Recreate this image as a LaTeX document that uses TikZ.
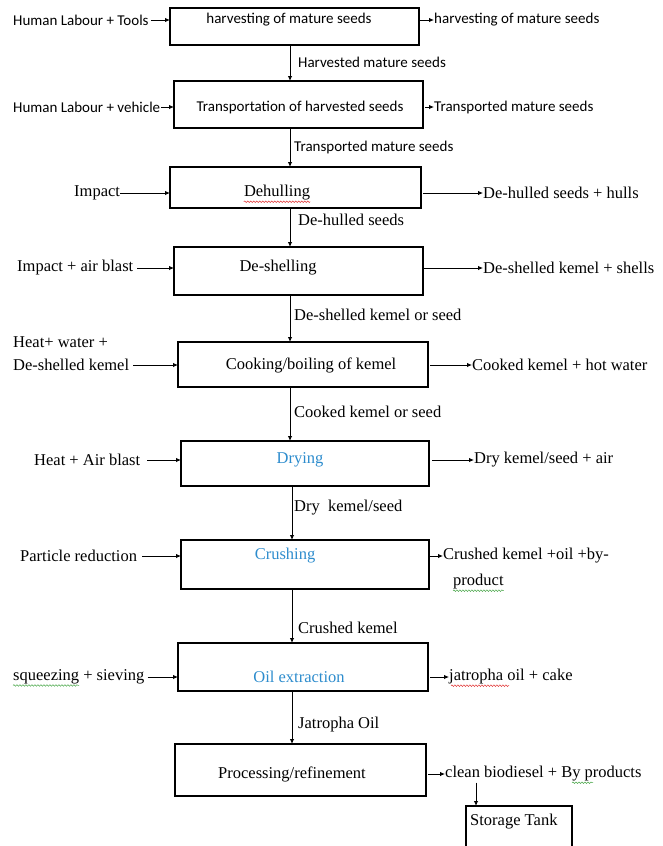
\documentclass[tikz,border=0pt]{standalone}
\usepackage{fontspec}
\setmainfont{Liberation Serif}
\newfontfamily\calfont{Carlito}
\usetikzlibrary{arrows.meta,decorations.pathmorphing}
\definecolor{wordblue}{RGB}{45,140,205}
\definecolor{spellred}{RGB}{225,50,50}
\definecolor{spellgreen}{RGB}{70,165,70}
\begin{document}
\begin{tikzpicture}[x=1pt,y=-1pt,
  box/.style={draw, line width=1.1pt, inner sep=0pt, outer sep=0pt},
  ser/.style={font=\fontsize{16.5}{18}\selectfont, inner sep=0pt},
  san/.style={font=\calfont\fontsize{15}{17}\selectfont, inner sep=0pt},
  blu/.style={ser, text=wordblue},
  arr/.style={line width=0.9pt, -{Latex[length=5pt,width=4.5pt]}},
  wavyr/.style={spellred, line width=0.5pt, decorate, decoration={snake, amplitude=0.8pt, segment length=3pt}},
  wavyg/.style={wavyr, spellgreen}]
\useasboundingbox (0,0) rectangle (663,846);
\clip (0,0) rectangle (663,846);
% boxes
\node[box, minimum width=249pt, minimum height=37pt] (b1) at (294.5,26.5) {};
\node[box, minimum width=249pt, minimum height=47pt] (b2) at (298.5,104.5) {};
\node[box, minimum width=251pt, minimum height=41pt] (b3) at (295.5,187.5) {};
\node[box, minimum width=249pt, minimum height=48pt] (b4) at (298.5,271) {};
\node[box, minimum width=250pt, minimum height=45pt] (b5) at (303,364.5) {};
\node[box, minimum width=248pt, minimum height=45pt] (b6) at (305,463.5) {};
\node[box, minimum width=248pt, minimum height=49pt] (b7) at (305,564.5) {};
\node[box, minimum width=250pt, minimum height=48pt] (b8) at (303,667) {};
\node[box, minimum width=251pt, minimum height=52pt] (b9) at (300.5,770) {};
\node[box, minimum width=106pt, minimum height=68pt] (tank) at (519,840) {};
% box texts
\node[san] (t1) at (289,20) {harvesting of mature seeds};
\node[san] (t2) at (300,107) {Transportation of harvested seeds};
\node[ser] (t3) at (277,193) {Dehulling};
\node[ser] (t4) at (278,268) {De-shelling};
\node[ser] (t5) at (311,365) {Cooking/boiling of kemel};
\node[blu] (t6) at (300,460) {Drying};
\node[blu] (t7) at (285,556) {Crushing};
\node[blu] (t8) at (299,677) {Oil extraction};
\node[ser] (t9) at (292,774) {Processing/refinement};
\node[ser, anchor=west] (t10) at (470,822) {Storage Tank};
% left inputs
\node[san, anchor=west] (l1) at (13,20) {Human Labour + Tools};
\node[san, anchor=west] (l2) at (13,107) {Human Labour + vehicle};
\node[ser, anchor=west] (l3) at (74,193) {Impact};
\node[ser, anchor=west] (l4) at (17,268) {Impact + air blast};
\node[ser, anchor=west] (l5a) at (13,342) {Heat+ water +};
\node[ser, anchor=west] (l5) at (13,365) {De-shelled kemel};
\node[ser, anchor=west] (l6) at (34,460) {Heat + Air blast};
\node[ser, anchor=west] (l7) at (20,556) {Particle reduction};
\node[ser, anchor=west] (l8) at (13,677) {squeezing + sieving};
% right outputs
\node[san, anchor=west] (r1) at (434,20) {harvesting of mature seeds};
\node[san, anchor=west] (r2) at (434,107) {Transported mature seeds};
\node[ser, anchor=west] (r3) at (483,193) {De-hulled seeds + hulls};
\node[ser, anchor=west] (r4) at (483,268) {De-shelled kemel + shells};
\node[ser, anchor=west] (r5) at (472,365) {Cooked kemel + hot water};
\node[ser, anchor=west] (r6) at (474,460) {Dry kemel/seed + air};
\node[ser, anchor=west] (r7) at (443,556) {Crushed kemel +oil +by-};
\node[ser, anchor=west] (r7b) at (453,582) {product};
\node[ser, anchor=west] (r8) at (449,677) {jatropha oil + cake};
\node[ser, anchor=west] (r9) at (445,774) {clean biodiesel + By products};
% vertical labels
\node[san, anchor=west] (v1) at (298,62) {Harvested mature seeds};
\node[san, anchor=west] (v2) at (294,147) {Transported mature seeds};
\node[ser, anchor=west] (v3) at (298,220) {De-hulled seeds};
\node[ser, anchor=west] (v4) at (294,315) {De-shelled kemel or seed};
\node[ser, anchor=west] (v5) at (294,412) {Cooked kemel or seed};
\node[ser, anchor=west] (v6) at (294,508) {Dry\ \ kemel/seed};
\node[ser, anchor=west] (v7) at (298,628) {Crushed kemel};
\node[ser, anchor=west] (v8) at (298,725) {Jatropha Oil};
% x positions of the vertical flow
\coordinate (xa) at (290,0);
\coordinate (xb) at (292,0);
\draw[arr] (b1.south -| xa) -- (b2.north -| xa);
\draw[arr] (b2.south -| xa) -- (b3.north -| xa);
\draw[arr] (b3.south -| xa) -- (b4.north -| xa);
\draw[arr] (b4.south -| xa) -- (b5.north -| xa);
\draw[arr] (b5.south -| xa) -- (b6.north -| xa);
\draw[arr] (b6.south -| xb) -- (b7.north -| xb);
\draw[arr] (b7.south -| xb) -- (b8.north -| xb);
\draw[arr] (b8.south -| xb) -- (b9.north -| xb);
% left arrows
\draw[arr] ([xshift=2pt]l1.east) -- (l1.east -| b1.west);
\draw[arr] ([xshift=1pt]l2.east) -- (l2.east -| b2.west);
\draw[arr] (l3.east) -- (l3.east -| b3.west);
\draw[arr] ([xshift=4pt]l4.east) -- (l4.east -| b4.west);
\draw[arr] ([xshift=4pt]l5.east) -- (l5.east -| b5.west);
\draw[arr] ([xshift=7pt]l6.east) -- (l6.east -| b6.west);
\draw[arr] ([xshift=5pt]l7.east) -- (l7.east -| b7.west);
\draw[arr] ([xshift=3pt]l8.east) -- (l8.east -| b8.west);
% right arrows
\draw[arr] (r1.west -| b1.east) -- (r1.west);
\draw[arr] ([xshift=2pt]r2.west -| b2.east) -- (r2.west);
\draw[arr] ([xshift=2pt]r3.west -| b3.east) -- (r3.west);
\draw[arr] (r4.west -| b4.east) -- (r4.west);
\draw[arr] ([xshift=2pt]r5.west -| b5.east) -- (r5.west);
\draw[arr] ([xshift=3pt]r6.west -| b6.east) -- (r6.west);
\draw[arr] (r7.west -| b7.east) -- (r7.west);
\draw[arr] ([xshift=2pt]r8.west -| b8.east) -- (r8.west);
\draw[arr] ([xshift=2pt]r9.west -| b9.east) -- (r9.west);
\coordinate (tk) at ([xshift=31pt,yshift=-1pt]r9.south west);
\draw[arr] (tk) -- (tk |- tank.north);
% spell-check squiggles
\draw[wavyr] ([yshift=-1pt]t3.south west) -- ([yshift=-1pt]t3.south east);
\draw[wavyg] ([yshift=-1pt]l8.south west) -- ([xshift=66pt,yshift=-1pt]l8.south west);
\draw[wavyr] ([xshift=2pt,yshift=-1pt]r8.south west) -- ([xshift=60pt,yshift=-1pt]r8.south west);
\draw[wavyg] ([yshift=-1pt]r7b.south west) -- ([yshift=-1pt]r7b.south east);
\draw[wavyg] ([xshift=127pt,yshift=-1pt]r9.south west) -- ([xshift=148pt,yshift=-1pt]r9.south west);
\end{tikzpicture}
\end{document}
